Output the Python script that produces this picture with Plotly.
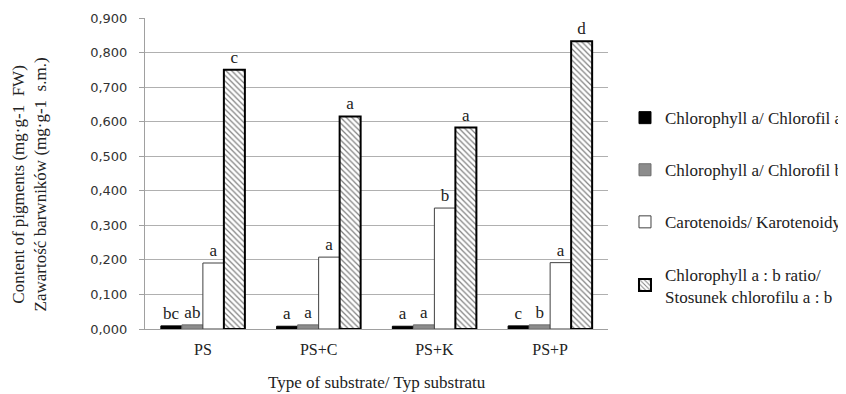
import plotly.graph_objects as go

categories = ["PS", "PS+C", "PS+K", "PS+P"]
chl_a = [0.009, 0.008, 0.008, 0.009]
chl_b = [0.012, 0.012, 0.012, 0.012]
carotenoids = [0.191, 0.208, 0.350, 0.192]
ratio_ab = [0.750, 0.615, 0.583, 0.833]

letters_chl_a = ["bc", "a", "a", "c"]
letters_chl_b = ["ab", "a", "a", "b"]
letters_car = ["a", "a", "b", "a"]
letters_ratio = ["c", "a", "a", "d"]

names = [
    "Chlorophyll a/ Chlorofil a",
    "Chlorophyll a/ Chlorofil b",
    "Carotenoids/ Karotenoidy",
    "Chlorophyll a : b ratio/<br>Stosunek chlorofilu a : b",
]

FONT = "Liberation Serif"
SANS = "DejaVu Sans"
INK = "#222"
tfont = dict(family=FONT, size=17, color=INK)

fig = go.Figure()
fig.add_bar(x=categories, y=chl_a, name=names[0], legendgroup="g1",
            marker=dict(color="black", line=dict(color="black", width=1)),
            text=letters_chl_a, textposition="outside", textfont=tfont,
            constraintext="none", cliponaxis=False)
fig.add_bar(x=categories, y=chl_b, name=names[1], legendgroup="g2",
            marker=dict(color="#8c8c8c", line=dict(color="#6e6e6e", width=1)),
            text=letters_chl_b, textposition="outside", textfont=tfont,
            constraintext="none", cliponaxis=False)
fig.add_bar(x=categories, y=carotenoids, name=names[2], legendgroup="g3",
            marker=dict(color="white", line=dict(color="#404040", width=1)),
            text=letters_car, textposition="outside", textfont=tfont,
            constraintext="none", cliponaxis=False)
fig.add_bar(x=categories, y=ratio_ab, name=names[3], legendgroup="g4",
            marker=dict(color="white", line=dict(color="black", width=2),
                        pattern=dict(shape="\\", fgcolor="black", bgcolor="white",
                                     size=4, solidity=0.3)),
            text=letters_ratio, textposition="outside", textfont=tfont,
            constraintext="none", cliponaxis=False)

fig.update_layout(
    width=838, height=386,
    margin=dict(l=137, r=238, t=10, b=65, pad=0, autoexpand=False),
    paper_bgcolor="white", plot_bgcolor="white",
    separators=", ",
    barmode="group", bargap=0.274, bargroupgap=0,
    font=dict(family=FONT, size=17, color=INK),
    showlegend=True,
    legend=dict(x=1.0367, xanchor="left", y=0.736, yanchor="top",
                font=dict(family=FONT, size=17, color=INK),
                tracegroupgap=27, itemwidth=30, bgcolor="rgba(0,0,0,0)"),
    xaxis=dict(showline=True, linecolor="#a0a0a0", linewidth=1, ticks="",
               automargin=False,
               ticklabelstandoff=6, tickfont=dict(family=FONT, size=16, color=INK)),
    yaxis=dict(range=[0, 0.9], dtick=0.1, tickformat=".3f",
               automargin=False,
               showgrid=True, gridcolor="#b0b0b0", gridwidth=1,
               showline=True, linecolor="#a0a0a0", linewidth=1,
               ticks="outside", ticklen=5, tickcolor="#a0a0a0",
               ticklabelstandoff=9, zeroline=False,
               tickfont=dict(family=SANS, size=13, color="#333")),
    annotations=[
        dict(text="Content of pigments (mg·g-1  FW)<br>Zawartość barwników (mg·g-1  s.m.)",
             xref="paper", yref="paper", x=-0.2505, y=0.465, xanchor="center", yanchor="middle",
             textangle=-90, showarrow=False, font=dict(family=FONT, size=17, color=INK)),
        dict(text="Type of substrate/ Typ substratu",
             xref="paper", yref="paper", x=0.5, y=-0.1736, xanchor="center", yanchor="middle",
             showarrow=False, font=dict(family=FONT, size=17, color=INK)),
    ],
)

fig.write_html("out.html")
